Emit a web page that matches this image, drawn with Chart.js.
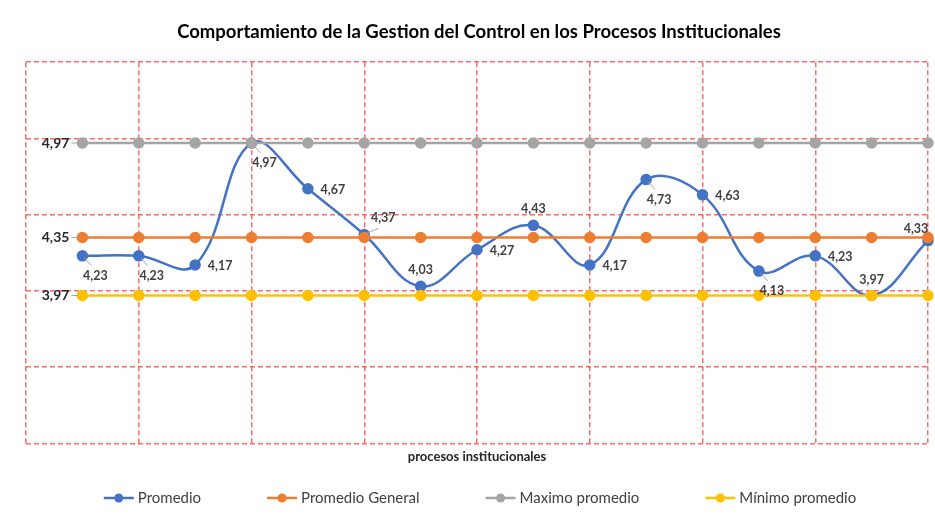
<!DOCTYPE html>
<html>
<head>
<meta charset="utf-8">
<script src="https://cdn.jsdelivr.net/npm/chart.js@4.4.0/dist/chart.umd.min.js"></script>
<style>
html, body { margin: 0; padding: 0; background: #fff; }
#wrap { width: 935px; height: 514px; position: relative; }
</style>
</head>
<body>
<div id="wrap"><canvas id="chart"></canvas></div>
<script>
// ---- data ----
const procesos = [1, 2, 3, 4, 5, 6, 7, 8, 9, 10, 11, 12, 13, 14, 15, 16];
const promedio = [4.23, 4.23, 4.17, 4.97, 4.67, 4.37, 4.03, 4.27, 4.43, 4.17, 4.73, 4.63, 4.13, 4.23, 3.97, 4.33];
const promedioGeneral = [4.35, 4.35, 4.35, 4.35, 4.35, 4.35, 4.35, 4.35, 4.35, 4.35, 4.35, 4.35, 4.35, 4.35, 4.35, 4.35];
const maximoPromedio = [4.97, 4.97, 4.97, 4.97, 4.97, 4.97, 4.97, 4.97, 4.97, 4.97, 4.97, 4.97, 4.97, 4.97, 4.97, 4.97];
const minimoPromedio = [3.97, 3.97, 3.97, 3.97, 3.97, 3.97, 3.97, 3.97, 3.97, 3.97, 3.97, 3.97, 3.97, 3.97, 3.97, 3.97];
const seriesNames = ["Promedio", "Promedio General", "Maximo promedio", "Mínimo promedio"];

// where each "Promedio" value label sits relative to its point
const labelPlacement = ["below", "below", "right", "below", "right", "upright", "above", "right",
  "above", "right", "below", "right", "below", "right", "above", "upleft"];

const colors = ["#4472C4", "#ED7D31", "#A5A5A5", "#FFC000"];
const FONT = "Lato, 'Liberation Sans', sans-serif";
const GRID = "rgba(255, 70, 70, 0.8)";
const fmt = v => v.toFixed(2).replace(".", ",");

function toPoints(values) {
  return values.map((v, i) => ({ x: procesos[i], y: v }));
}

/* -------------------------
   value labels
------------------------- */
const offsets = {
  below: [13, 20], right: [25, 1], above: [0, -16], upright: [19, -17], upleft: [-12, -12]
};

const valueLabels = {
  id: "valueLabels",
  afterDatasetsDraw(chart) {
    const ctx = chart.ctx;
    ctx.save();
    ctx.font = "bold 12.5px " + FONT;
    ctx.fillStyle = "#404040";
    ctx.textBaseline = "middle";

    // Promedio labels
    const meta = chart.getDatasetMeta(0);
    meta.data.forEach((pt, i) => {
      const place = labelPlacement[i];
      const off = offsets[place];
      if (place === "below" || place === "upright") {
        ctx.strokeStyle = "#A6A6A6"; ctx.lineWidth = 1;
        ctx.beginPath();
        ctx.moveTo(pt.x + 2, pt.y + (place === "below" ? 2 : -1));
        ctx.lineTo(pt.x + (place === "below" ? 9 : 14), pt.y + (place === "below" ? 10 : -6));
        ctx.stroke();
      }
      ctx.textAlign = "center";
      ctx.fillText(fmt(promedio[i]), pt.x + off[0], pt.y + off[1]);
    });

    // first-point labels of the reference lines, set to the left
    ctx.font = "bold 14px " + FONT;
    ctx.fillStyle = "#262626";
    [1, 2, 3].forEach(d => {
      const pt = chart.getDatasetMeta(d).data[0];
      const val = chart.data.datasets[d].data[0].y;
      ctx.strokeStyle = "#A6A6A6"; ctx.lineWidth = 1;
      ctx.beginPath(); ctx.moveTo(pt.x - 11, pt.y); ctx.lineTo(pt.x - 4, pt.y); ctx.stroke();
      ctx.textAlign = "right";
      ctx.fillText(fmt(val), pt.x - 13, pt.y);
    });
    ctx.restore();
  }
};

/* -------------------------
   legend (line + dot markers, wide spacing)
------------------------- */
const lineLegend = {
  id: "lineLegend",
  afterDraw(chart) {
    const ctx = chart.ctx;
    const area = chart.chartArea;
    ctx.save();
    ctx.font = "15px " + FONT;
    ctx.textBaseline = "middle";
    const gap = 66, mark = 30, space = 4;
    const widths = seriesNames.map(n => ctx.measureText(n).width);
    const total = widths.reduce((a, w) => a + w + mark + space, 0) + gap * (seriesNames.length - 1);
    let x = (area.left + area.right) / 2 + 3 - total / 2;
    const y = 498;
    seriesNames.forEach((name, i) => {
      ctx.strokeStyle = colors[i]; ctx.lineWidth = 2.5;
      ctx.beginPath(); ctx.moveTo(x, y); ctx.lineTo(x + mark, y); ctx.stroke();
      ctx.fillStyle = colors[i];
      ctx.beginPath(); ctx.arc(x + mark / 2, y, 4.5, 0, Math.PI * 2); ctx.fill();
      ctx.fillStyle = "#404040";
      ctx.textAlign = "left";
      ctx.fillText(name, x + mark + space, y);
      x += mark + space + widths[i] + gap;
    });
    ctx.restore();
  }
};

const seriesData = [promedio, promedioGeneral, maximoPromedio, minimoPromedio];

const chart = new Chart(document.getElementById("chart"), {
  type: "line",
  data: {
    datasets: seriesData.map((vals, i) => ({
      label: seriesNames[i],
      data: toPoints(vals),
      borderColor: colors[i],
      backgroundColor: colors[i],
      borderWidth: 2.5,
      pointRadius: 4.5,
      pointHoverRadius: 4.5,
      tension: i === 0 ? 0.4 : 0,
      clip: false,
      order: 4 - i
    }))
  },
  options: {
    responsive: true,
    maintainAspectRatio: false,
    animation: false,
    layout: { padding: { left: 26, right: 3, top: 0, bottom: 49 } },
    plugins: {
      title: {
        display: true,
        text: "Comportamiento de la Gestion del Control en los Procesos Institucionales",
        color: "#000",
        font: { family: FONT, size: 18.5, weight: "bold" },
        padding: { top: 21, bottom: 19 }
      },
      legend: { display: false },
      tooltip: { enabled: false }
    },
    scales: {
      x: {
        type: "linear",
        min: 0,
        max: 16,
        ticks: { display: false, stepSize: 2 },
        border: { display: false, dash: [5, 3] },
        grid: { color: GRID, lineWidth: 1.5, drawTicks: false },
        title: {
          display: true,
          text: "procesos institucionales",
          color: "#262626",
          font: { family: FONT, size: 13, weight: "bold" },
          padding: { top: 6, bottom: 0 }
        }
      },
      y: {
        min: 3,
        max: 5.5,
        ticks: { display: false, stepSize: 0.5 },
        border: { display: false, dash: [5, 3] },
        grid: { color: GRID, lineWidth: 1.5, drawTicks: false }
      }
    }
  },
  plugins: [valueLabels, lineLegend]
});
</script>
</body>
</html>
